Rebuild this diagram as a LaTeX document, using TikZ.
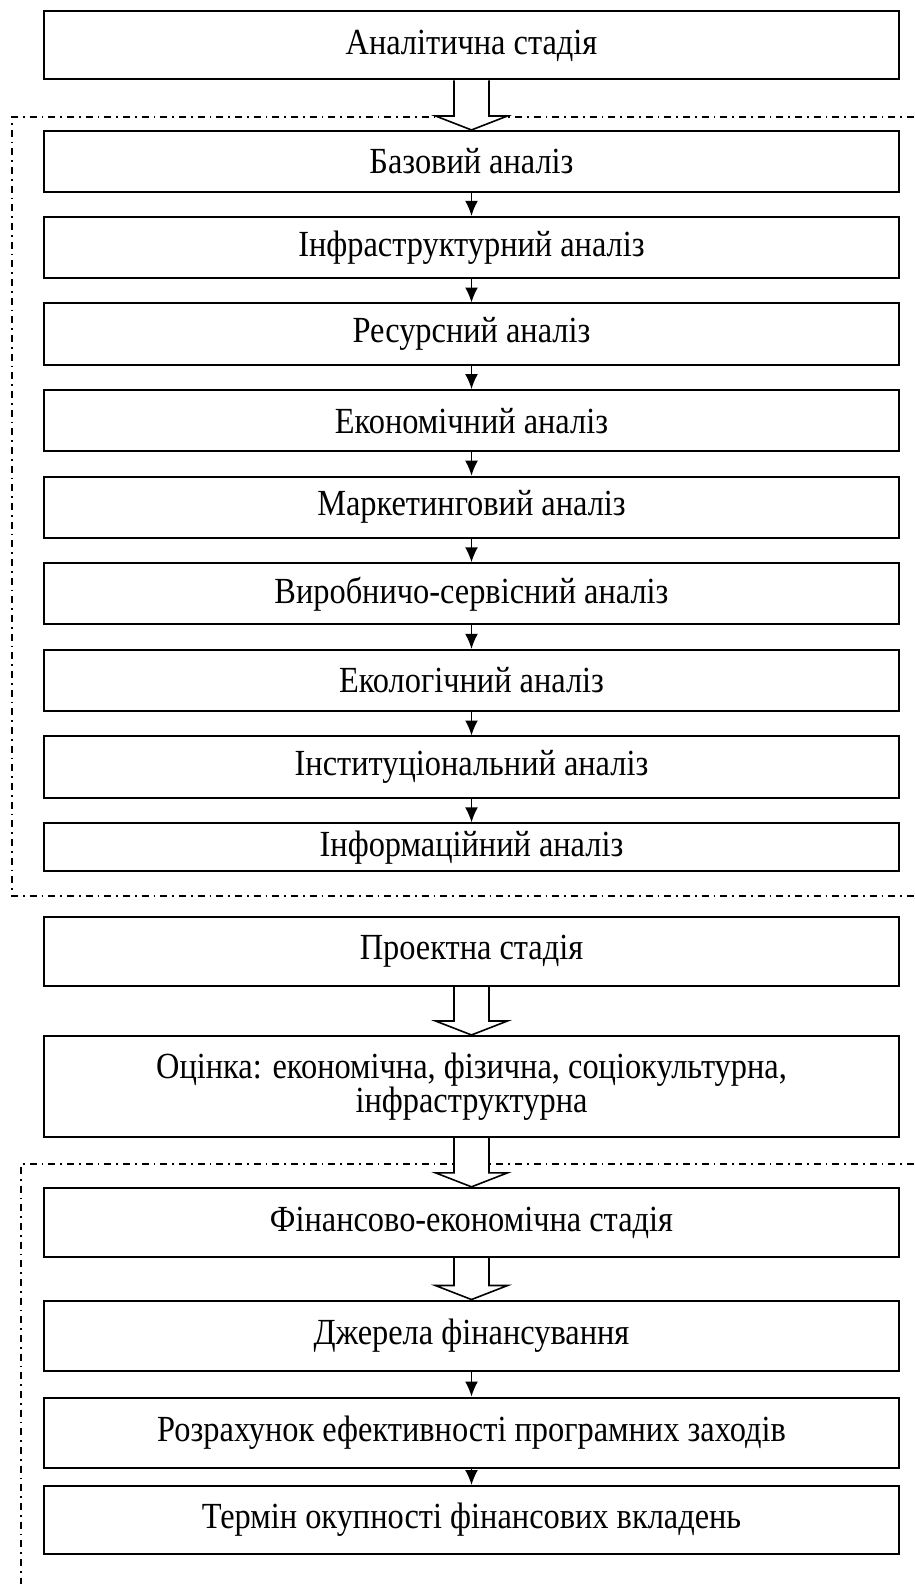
\documentclass[tikz,border=0pt]{standalone}
\usepackage{fontspec}
\setmainfont{Liberation Serif}[FakeStretch=0.88]
\usetikzlibrary{arrows.meta,calc}
\begin{document}
\begin{tikzpicture}[x=0.375pt,y=-0.375pt,
    every node/.style={draw,line width=0.75pt,minimum width=320.6pt,inner sep=2pt,font=\fontsize{13.8}{12.8}\selectfont},
    stage/.style={minimum height=25.5pt},
    part/.style={minimum height=22.9pt},
    frame/.style={line width=0.5pt,dash pattern=on 2.6pt off 1.9pt on 0.6pt off 1.9pt},
    thin/.style={line width=0.5pt,-{Latex[length=5.6pt,width=4.8pt]}},
    hollow/.style={line width=0.6pt,fill=white}]
  \useasboundingbox (0,0) rectangle (914,1584);
  \draw[frame] (914,117) -- (12,117) -- (12,896) -- (914,896);
  \draw[frame] (914,1164) -- (21,1164) -- (21,1584);
  \node[stage] (s1) at (471.5,45.5) {Аналітична стадія};
  \node[part] (a1) at (471.5,161.5) {Базовий аналіз};
  \node[part] (a2) at (471.5,247.4) {Інфраструктурний аналіз};
  \node[part] (a3) at (471.5,334) {Ресурсний аналіз};
  \node[part] (a4) at (471.5,420.6) {Економічний аналіз};
  \node[part] (a5) at (471.5,507.2) {Маркетинговий аналіз};
  \node[part] (a6) at (471.5,593.8) {Виробничо-сервісний аналіз};
  \node[part] (a7) at (471.5,680.4) {Екологічний аналіз};
  \node[part] (a8) at (471.5,767) {Інституціональний аналіз};
  \node[minimum height=17.9pt] (a9) at (471.5,847.2) {Інформаційний аналіз};
  \node[stage,minimum height=26pt] (p1) at (471.5,951.5) {Проектна стадія};
  \node[minimum height=37.9pt,align=center] (p2) at (471.5,1086.5) {Оцінка: економічна, фізична, соціокультурна,\\ інфраструктурна};
  \node[stage,minimum height=26pt] (f1) at (471.5,1222.5) {Фінансово-економічна стадія};
  \node[stage,minimum height=26.6pt] (f2) at (471.5,1336) {Джерела фінансування};
  \node[stage,minimum height=26.6pt] (f3) at (471.5,1433) {Розрахунок ефективності програмних заходів};
  \node[stage] (f4) at (471.5,1520) {Термін окупності фінансових вкладень};
  \path[draw,thin] (a1) -- (a2);
  \path[draw,thin] (a2) -- (a3);
  \path[draw,thin] (a3) -- (a4);
  \path[draw,thin] (a4) -- (a5);
  \path[draw,thin] (a5) -- (a6);
  \path[draw,thin] (a6) -- (a7);
  \path[draw,thin] (a7) -- (a8);
  \path[draw,thin] (a8) -- (a9);
  \path[draw,thin] (f2) -- (f3);
  \path[draw,thin] (f3) -- (f4);
  % hollow block arrows between the stages
  \draw[hollow] ($(s1.south)+(-17.5,0)$) -- ($(a1.north)+(-17.5,-14)$) -- ($(a1.north)+(-36,-14)$) -- (a1.north) -- ($(a1.north)+(36,-14)$) -- ($(a1.north)+(17.5,-14)$) -- ($(s1.south)+(17.5,0)$);
  \draw[hollow] ($(p1.south)+(-17.5,0)$) -- ($(p2.north)+(-17.5,-14)$) -- ($(p2.north)+(-36,-14)$) -- (p2.north) -- ($(p2.north)+(36,-14)$) -- ($(p2.north)+(17.5,-14)$) -- ($(p1.south)+(17.5,0)$);
  \draw[hollow] ($(p2.south)+(-17.5,0)$) -- ($(f1.north)+(-17.5,-14)$) -- ($(f1.north)+(-36,-14)$) -- (f1.north) -- ($(f1.north)+(36,-14)$) -- ($(f1.north)+(17.5,-14)$) -- ($(p2.south)+(17.5,0)$);
  \draw[hollow] ($(f1.south)+(-17.5,0)$) -- ($(f2.north)+(-17.5,-14)$) -- ($(f2.north)+(-36,-14)$) -- (f2.north) -- ($(f2.north)+(36,-14)$) -- ($(f2.north)+(17.5,-14)$) -- ($(f1.south)+(17.5,0)$);
\end{tikzpicture}
\end{document}
